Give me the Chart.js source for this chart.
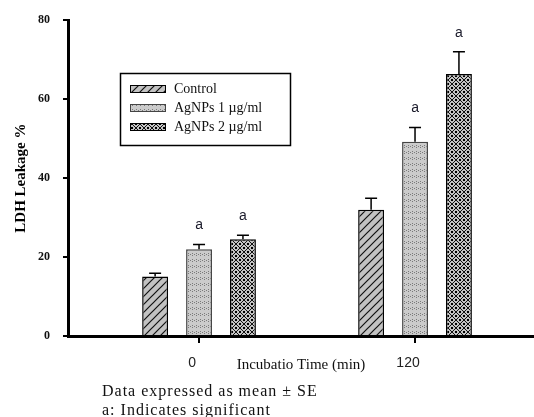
<!DOCTYPE html>
<html>
<head>
<meta charset="utf-8">
<script src="https://cdn.jsdelivr.net/npm/chart.js@4.4.1/dist/chart.umd.min.js"></script>
<style>
  body { margin: 0; background: #fff; }
  #wrap { position: relative; width: 534px; height: 417px; }
  .note { position: absolute; left: 102px; font: 16px "Liberation Serif", serif; letter-spacing: 1px; color: #111; white-space: nowrap; }
</style>
</head>
<body>
<div id="wrap">
  <canvas id="ldhChart"></canvas>
  <div class="note" style="top: 382px;">Data expressed as mean ± SE</div>
  <div class="note" style="top: 401px;">a: Indicates significant</div>
</div>
<script>
// incubation times (min) and their labels
const timePoints = [0, 120];
const timeLabels = ['0', '120'];
const seriesNames = ['Control', 'AgNPs 1 µg/ml', 'AgNPs 2 µg/ml'];

// LDH leakage % (mean) and SE
const controlMean = [15.1, 32.0];
const controlSE = [0.8, 2.9];
const agnp1Mean = [22.0, 49.2];
const agnp1SE = [1.2, 3.6];
const agnp2Mean = [24.5, 66.4];
const agnp2SE = [1.0, 5.6];

// "a" = significant vs control
const controlSig = [false, false];
const agnp1Sig = [true, true];
const agnp2Sig = [true, true];

const yTicks = [0, 20, 40, 60, 80];

// hatch patterns like the old excel fills
function makePattern(kind) {
    const c = document.createElement('canvas');
    const g = c.getContext('2d');
    if (kind === 'diag') {
        c.width = 8; c.height = 8;
        g.fillStyle = '#c2c2c2';
        g.fillRect(0, 0, 8, 8);
        g.strokeStyle = '#111';
        g.lineWidth = 1.2;
        g.beginPath();
        g.moveTo(-1, 9); g.lineTo(9, -1);
        g.moveTo(-1, 1); g.lineTo(1, -1);
        g.moveTo(7, 9); g.lineTo(9, 7);
        g.stroke();
    } else if (kind === 'dots') {
        c.width = 4; c.height = 6;
        g.fillStyle = '#cbcbcb';
        g.fillRect(0, 0, 4, 6);
        g.fillStyle = '#7a7a7a';
        g.fillRect(0, 1, 1, 1);
        g.fillRect(2, 2, 1, 1);
        g.fillRect(0, 3, 1, 1);
    } else {
        c.width = 8; c.height = 8;
        g.fillStyle = '#c4c4c4';
        g.fillRect(0, 0, 8, 8);
        g.strokeStyle = '#111';
        g.lineWidth = 1;
        g.beginPath();
        g.moveTo(0, 0); g.lineTo(8, 8);
        g.moveTo(8, 0); g.lineTo(0, 8);
        g.stroke();
        g.fillStyle = '#000';
        g.fillRect(3, 0, 2, 1);
        g.fillRect(3, 7, 2, 1);
        g.fillRect(0, 3, 1, 2);
        g.fillRect(7, 3, 1, 2);
    }
    return document.createElement('canvas').getContext('2d').createPattern(c, 'repeat');
}

const fills = [makePattern('diag'), makePattern('dots'), makePattern('cross')];
const borders = ['#000', '#444', '#000'];

function toPoints(values) {
    return values.map((v, i) => ({ x: timePoints[i], y: v }));
}

const errors = [controlSE, agnp1SE, agnp2SE];
const sigFlags = [controlSig, agnp1Sig, agnp2Sig];

// error bars (upper half only) + the "a" marks
const errorBarPlugin = {
    id: 'errorBars',
    afterDatasetsDraw(chart) {
        const ctx = chart.ctx;
        const y = chart.scales.y;
        ctx.save();
        chart.data.datasets.forEach((ds, di) => {
            const meta = chart.getDatasetMeta(di);
            meta.data.forEach((bar, i) => {
                const top = y.getPixelForValue(ds.data[i].y + errors[di][i]);
                ctx.strokeStyle = '#000';
                ctx.lineWidth = 1.5;
                ctx.beginPath();
                ctx.moveTo(bar.x, bar.y);
                ctx.lineTo(bar.x, top);
                ctx.moveTo(bar.x - 6, top);
                ctx.lineTo(bar.x + 6, top);
                ctx.stroke();
                if (sigFlags[di][i]) {
                    ctx.fillStyle = '#1a1a2a';
                    ctx.font = '14px "Liberation Sans", Arial, sans-serif';
                    ctx.textAlign = 'center';
                    ctx.textBaseline = 'middle';
                    ctx.fillText('a', bar.x, top - 19);
                }
            });
        });
        // tick marks under the time axis
        const x = chart.scales.x;
        ctx.strokeStyle = '#000';
        ctx.lineWidth = 2;
        ctx.beginPath();
        timePoints.forEach(t => {
            const px = Math.round(x.getPixelForValue(t));
            ctx.moveTo(px, chart.chartArea.bottom);
            ctx.lineTo(px, chart.chartArea.bottom + 7);
        });
        ctx.stroke();
        ctx.restore();
    }
};

// boxed legend sitting inside the plot
const boxLegendPlugin = {
    id: 'boxLegend',
    afterDraw(chart) {
        const ctx = chart.ctx;
        ctx.save();
        ctx.strokeStyle = '#000';
        ctx.lineWidth = 1.5;
        ctx.strokeRect(120.5, 73.5, 170, 72);
        chart.data.datasets.forEach((ds, di) => {
            const cy = 89 + di * 19;
            ctx.fillStyle = ds.backgroundColor;
            ctx.fillRect(130, cy - 4, 36, 8);
            ctx.lineWidth = 1;
            ctx.strokeStyle = ds.borderColor;
            ctx.strokeRect(130.5, cy - 3.5, 35, 7);
            ctx.fillStyle = '#111';
            ctx.font = '14px "Liberation Serif", serif';
            ctx.textAlign = 'left';
            ctx.textBaseline = 'middle';
            ctx.fillText(ds.label, 174, cy);
        });
        ctx.restore();
    }
};

const means = [controlMean, agnp1Mean, agnp2Mean];

new Chart(document.getElementById('ldhChart'), {
    type: 'bar',
    data: {
        datasets: seriesNames.map((name, i) => ({
            label: name,
            data: toPoints(means[i]),
            backgroundColor: fills[i],
            borderColor: borders[i],
            borderWidth: 1.5,
            categoryPercentage: 0.61,
            barPercentage: 0.59
        }))
    },
    options: {
        responsive: true,
        maintainAspectRatio: false,
        animation: false,
        layout: { padding: { top: 19, right: 0, bottom: 0, left: 0 } },
        plugins: {
            legend: { display: false },
            tooltip: { enabled: false }
        },
        scales: {
            x: {
                type: 'linear',
                min: -72.8,
                max: 186.1,
                offset: false,
                afterBuildTicks: scale => {
                    scale.ticks = timePoints.map(v => ({ value: v }));
                },
                afterFit: scale => { scale.height = 81; },
                grid: { offset: false, drawOnChartArea: false, drawTicks: true, tickLength: 6, color: '#000', lineWidth: 2 },
                border: { color: '#000', width: 3 },
                ticks: {
                    padding: 13,
                    labelOffset: -7,
                    color: '#222',
                    font: { family: '"Liberation Sans", Arial, sans-serif', size: 14 },
                    callback: (v) => timeLabels[timePoints.indexOf(v)]
                },
                title: {
                    display: true,
                    text: 'Incubatio Time (min)',
                    color: '#111',
                    font: { family: '"Liberation Serif", serif', size: 15 },
                    padding: { top: 0, bottom: 43 }
                }
            },
            y: {
                min: 0,
                max: 80,
                afterBuildTicks: scale => {
                    scale.ticks = yTicks.map(v => ({ value: v }));
                },
                afterFit: scale => { scale.width = 68; },
                grid: { drawOnChartArea: false, drawTicks: true, tickLength: 5, color: '#000', lineWidth: 2 },
                border: { color: '#000', width: 3 },
                ticks: {
                    padding: 13,
                    color: '#111',
                    font: { family: '"Liberation Serif", serif', size: 12, weight: 'bold' }
                },
                title: {
                    display: true,
                    text: 'LDH Leakage %',
                    color: '#000',
                    font: { family: '"Liberation Serif", serif', size: 15, weight: 'bold' },
                    padding: { top: 12, bottom: 0 }
                }
            }
        }
    },
    plugins: [errorBarPlugin, boxLegendPlugin]
});
</script>
</body>
</html>
